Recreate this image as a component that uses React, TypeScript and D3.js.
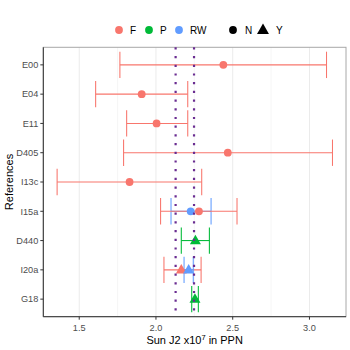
import React from "react";
import * as d3 from "d3";

const refs = ["E00", "E04", "E11", "D405", "I13c", "I15a", "D440", "I20a", "G18"];
const entryRef = ["E00", "E04", "E11", "D405", "I13c", "I15a", "I15a", "D440", "I20a", "I20a", "G18"];
const entryGroup = ["F", "F", "F", "F", "F", "RW", "F", "P", "F", "RW", "P"];
const entryFlag = ["N", "N", "N", "N", "N", "N", "N", "Y", "Y", "Y", "Y"];
const entryValue = [2.439, 1.907, 2.004, 2.468, 1.828, 2.226, 2.28, 2.257, 2.165, 2.213, 2.254];
const entryLow = [1.765, 1.607, 1.809, 1.789, 1.356, 2.098, 2.03, 2.165, 2.052, 2.183, 2.233];
const entryHigh = [3.111, 2.207, 2.207, 3.15, 2.298, 2.359, 2.528, 2.348, 2.294, 2.243, 2.276];
const refLines = [2.128, 2.248];
const xTicks = [1.5, 2.0, 2.5, 3.0];
const xMinor = [1.25, 1.75, 2.25, 2.75, 3.25];
const groups = ["F", "P", "RW"];
const flags = ["N", "Y"];
const groupColors = ["#F8766D", "#00BA38", "#619CFF"];

const L = 43.3, R = 346, T = 47.3, B = 316.7;
const FONT = "Liberation Sans, Arial, Helvetica, sans-serif";

export default function App() {
  const x = d3.scaleLinear().domain([1.266, 3.238]).range([L, R]);
  const y = d3.scalePoint<string>().domain(refs).range([T, B]).padding(0.6);
  const color = d3.scaleOrdinal<string, string>().domain(groups).range(groupColors);
  const step = y.step();
  const capH = step * 0.9 / 2;
  const tri = d3.symbol().type(d3.symbolTriangle).size(52)();
  const triLeg = d3.symbol().type(d3.symbolTriangle).size(62)();

  const entries = entryRef.map((r, i) => ({
    ref: r, g: entryGroup[i], f: entryFlag[i], v: entryValue[i], lo: entryLow[i], hi: entryHigh[i],
  }));

  const legendItems = [
    { kind: "g", label: "F", cx: 119, tx: 130 },
    { kind: "g", label: "P", cx: 149, tx: 160 },
    { kind: "g", label: "RW", cx: 179, tx: 190 },
    { kind: "f", label: "N", cx: 233, tx: 245 },
    { kind: "f", label: "Y", cx: 263, tx: 276 },
  ];

  return (
    <svg width={350} height={350} style={{ position: "absolute", left: 0, top: 0 }} fontFamily={FONT}>
      <rect x={0} y={0} width={350} height={350} fill="white" />
      {/* grid */}
      {xMinor.filter(v => x(v) > L && x(v) < R).map(v => (
        <line key={"m" + v} x1={x(v)} x2={x(v)} y1={T} y2={B} stroke="#f0f0f0" strokeWidth={0.6} />
      ))}
      {xTicks.map(v => (
        <line key={"g" + v} x1={x(v)} x2={x(v)} y1={T} y2={B} stroke="#ebebeb" strokeWidth={1} />
      ))}
      {/* border */}
      <rect x={L} y={T} width={R - L} height={B - T} fill="none" stroke="#a8a8a8" strokeWidth={1} />
      <line x1={L} x2={L} y1={T} y2={B} stroke="#333" strokeWidth={1} />
      <line x1={L} x2={R} y1={B} y2={B} stroke="#333" strokeWidth={1} />
      {/* errorbars */}
      {entries.map((e, i) => {
        const cy = y(e.ref)!;
        const c = color(e.g);
        return (
          <g key={"e" + i} stroke={c} strokeWidth={1.07}>
            <line x1={x(e.lo)} x2={x(e.hi)} y1={cy} y2={cy} />
            <line x1={x(e.lo)} x2={x(e.lo)} y1={cy - capH} y2={cy + capH} />
            <line x1={x(e.hi)} x2={x(e.hi)} y1={cy - capH} y2={cy + capH} />
          </g>
        );
      })}
      {/* points */}
      {entries.map((e, i) => {
        const cy = y(e.ref)!;
        const cx = x(e.v);
        const c = color(e.g);
        return e.f === "N" ? (
          <circle key={"p" + i} cx={cx} cy={cy} r={3.9} fill={c} />
        ) : (
          <path key={"p" + i} d={tri!} transform={`translate(${cx},${cy + 0.5})`} fill={c} />
        );
      })}
      {/* reference lines */}
      {refLines.map(v => (
        <line key={"r" + v} x1={x(v)} x2={x(v)} y1={T} y2={B} stroke="#6A2C91" strokeWidth={2.2} strokeDasharray="2.2 6.5" />
      ))}
      {/* y axis */}
      {refs.map(r => (
        <g key={"y" + r}>
          <line x1={L - 3} x2={L} y1={y(r)!} y2={y(r)!} stroke="#333" strokeWidth={1} />
          <text x={L - 5} y={y(r)!} dy="0.35em" textAnchor="end" fontSize={9.2} fill="#4d4d4d">{r}</text>
        </g>
      ))}
      {/* x axis */}
      {xTicks.map(v => (
        <g key={"x" + v}>
          <line x1={x(v)} x2={x(v)} y1={B} y2={B + 3} stroke="#333" strokeWidth={1} />
          <text x={x(v)} y={B + 8} dy="0.7em" textAnchor="middle" fontSize={9.2} fill="#4d4d4d">{d3.format(".1f")(v)}</text>
        </g>
      ))}
      <text x={(L + R) / 2} y={344} textAnchor="middle" fontSize={11} fill="black">
        Sun J2 x10<tspan dy={-4} fontSize={7.5}>7</tspan><tspan dy={4}> in PPN</tspan>
      </text>
      <text transform={`translate(13,${(T + B) / 2}) rotate(-90)`} textAnchor="middle" fontSize={11} fill="black">References</text>
      {/* legend */}
      {legendItems.map(it => (
        <g key={"l" + it.label}>
          {it.kind === "g" ? (
            <circle cx={it.cx} cy={30} r={3.9} fill={color(it.label)} />
          ) : it.label === "N" ? (
            <circle cx={it.cx} cy={30} r={3.9} fill="black" />
          ) : (
            <path d={triLeg!} transform={`translate(${it.cx},${30.5})`} fill="black" />
          )}
          <text x={it.tx} y={30} dy="0.35em" fontSize={10} fill="black">{it.label}</text>
        </g>
      ))}
    </svg>
  );
}
